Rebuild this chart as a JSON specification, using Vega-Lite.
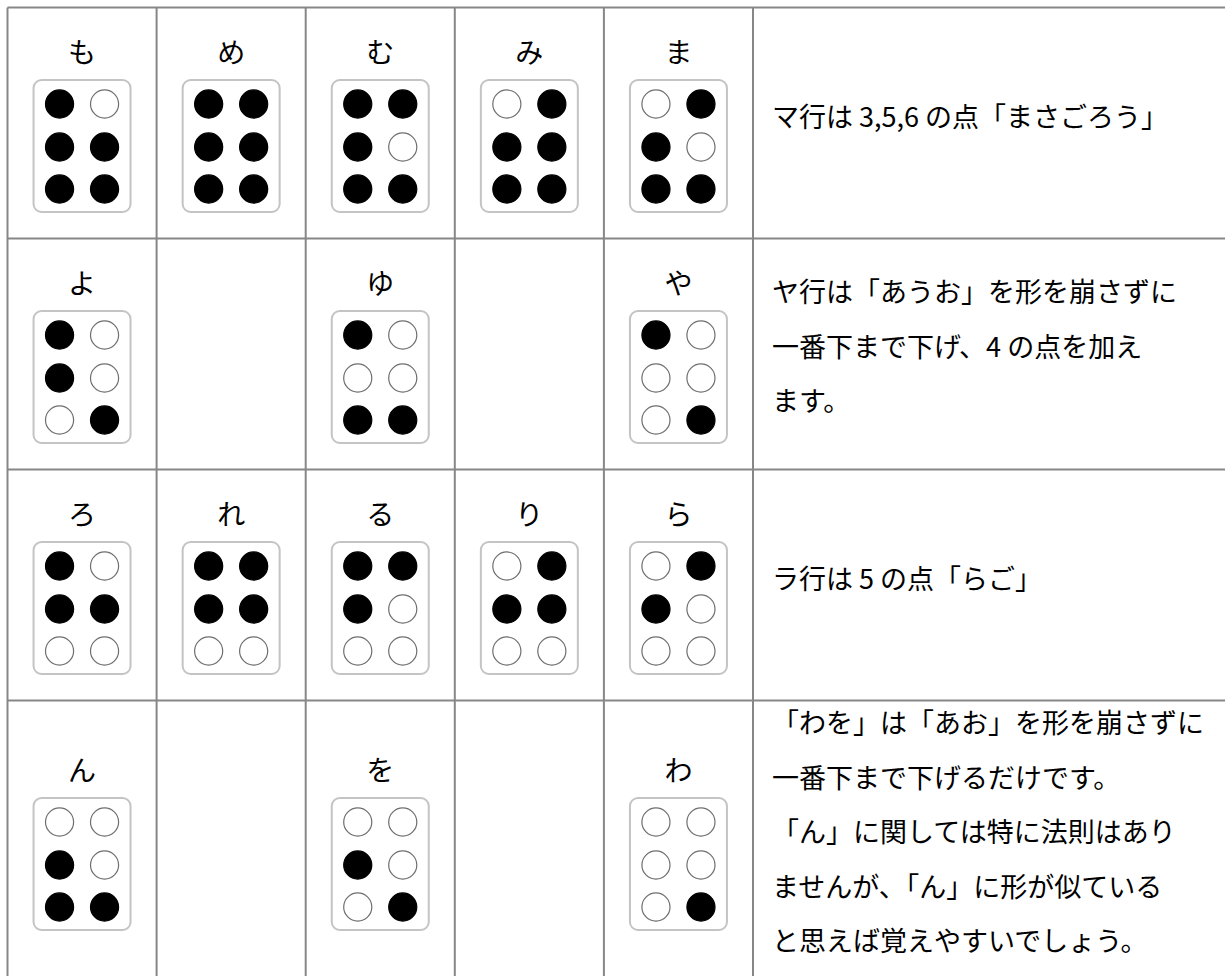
{
  "$schema": "https://vega.github.io/schema/vega-lite/v6.json",
  "width": 1225,
  "height": 976,
  "autosize": {"type": "none"},
  "padding": 0,
  "background": "white",
  "config": {"view": {"stroke": null}, "axis": {"disable": true}},
  "datasets": {
    "cells": [
      {"kana": "も", "col": 1, "row": 1}, {"kana": "め", "col": 2, "row": 1}, {"kana": "む", "col": 3, "row": 1}, {"kana": "み", "col": 4, "row": 1}, {"kana": "ま", "col": 5, "row": 1},
      {"kana": "よ", "col": 1, "row": 2}, {"kana": "ゆ", "col": 3, "row": 2}, {"kana": "や", "col": 5, "row": 2},
      {"kana": "ろ", "col": 1, "row": 3}, {"kana": "れ", "col": 2, "row": 3}, {"kana": "る", "col": 3, "row": 3}, {"kana": "り", "col": 4, "row": 3}, {"kana": "ら", "col": 5, "row": 3},
      {"kana": "ん", "col": 1, "row": 4}, {"kana": "を", "col": 3, "row": 4}, {"kana": "わ", "col": 5, "row": 4}
    ],
    "dots": [
      {"kana": "も", "col": 1, "row": 1, "dot": 1, "state": "raised"}, {"kana": "も", "col": 1, "row": 1, "dot": 2, "state": "raised"}, {"kana": "も", "col": 1, "row": 1, "dot": 3, "state": "raised"}, {"kana": "も", "col": 1, "row": 1, "dot": 4, "state": "flat"}, {"kana": "も", "col": 1, "row": 1, "dot": 5, "state": "raised"}, {"kana": "も", "col": 1, "row": 1, "dot": 6, "state": "raised"},
      {"kana": "め", "col": 2, "row": 1, "dot": 1, "state": "raised"}, {"kana": "め", "col": 2, "row": 1, "dot": 2, "state": "raised"}, {"kana": "め", "col": 2, "row": 1, "dot": 3, "state": "raised"}, {"kana": "め", "col": 2, "row": 1, "dot": 4, "state": "raised"}, {"kana": "め", "col": 2, "row": 1, "dot": 5, "state": "raised"}, {"kana": "め", "col": 2, "row": 1, "dot": 6, "state": "raised"},
      {"kana": "む", "col": 3, "row": 1, "dot": 1, "state": "raised"}, {"kana": "む", "col": 3, "row": 1, "dot": 2, "state": "raised"}, {"kana": "む", "col": 3, "row": 1, "dot": 3, "state": "raised"}, {"kana": "む", "col": 3, "row": 1, "dot": 4, "state": "raised"}, {"kana": "む", "col": 3, "row": 1, "dot": 5, "state": "flat"}, {"kana": "む", "col": 3, "row": 1, "dot": 6, "state": "raised"},
      {"kana": "み", "col": 4, "row": 1, "dot": 1, "state": "flat"}, {"kana": "み", "col": 4, "row": 1, "dot": 2, "state": "raised"}, {"kana": "み", "col": 4, "row": 1, "dot": 3, "state": "raised"}, {"kana": "み", "col": 4, "row": 1, "dot": 4, "state": "raised"}, {"kana": "み", "col": 4, "row": 1, "dot": 5, "state": "raised"}, {"kana": "み", "col": 4, "row": 1, "dot": 6, "state": "raised"},
      {"kana": "ま", "col": 5, "row": 1, "dot": 1, "state": "flat"}, {"kana": "ま", "col": 5, "row": 1, "dot": 2, "state": "raised"}, {"kana": "ま", "col": 5, "row": 1, "dot": 3, "state": "raised"}, {"kana": "ま", "col": 5, "row": 1, "dot": 4, "state": "raised"}, {"kana": "ま", "col": 5, "row": 1, "dot": 5, "state": "flat"}, {"kana": "ま", "col": 5, "row": 1, "dot": 6, "state": "raised"},
      {"kana": "よ", "col": 1, "row": 2, "dot": 1, "state": "raised"}, {"kana": "よ", "col": 1, "row": 2, "dot": 2, "state": "raised"}, {"kana": "よ", "col": 1, "row": 2, "dot": 3, "state": "flat"}, {"kana": "よ", "col": 1, "row": 2, "dot": 4, "state": "flat"}, {"kana": "よ", "col": 1, "row": 2, "dot": 5, "state": "flat"}, {"kana": "よ", "col": 1, "row": 2, "dot": 6, "state": "raised"},
      {"kana": "ゆ", "col": 3, "row": 2, "dot": 1, "state": "raised"}, {"kana": "ゆ", "col": 3, "row": 2, "dot": 2, "state": "flat"}, {"kana": "ゆ", "col": 3, "row": 2, "dot": 3, "state": "raised"}, {"kana": "ゆ", "col": 3, "row": 2, "dot": 4, "state": "flat"}, {"kana": "ゆ", "col": 3, "row": 2, "dot": 5, "state": "flat"}, {"kana": "ゆ", "col": 3, "row": 2, "dot": 6, "state": "raised"},
      {"kana": "や", "col": 5, "row": 2, "dot": 1, "state": "raised"}, {"kana": "や", "col": 5, "row": 2, "dot": 2, "state": "flat"}, {"kana": "や", "col": 5, "row": 2, "dot": 3, "state": "flat"}, {"kana": "や", "col": 5, "row": 2, "dot": 4, "state": "flat"}, {"kana": "や", "col": 5, "row": 2, "dot": 5, "state": "flat"}, {"kana": "や", "col": 5, "row": 2, "dot": 6, "state": "raised"},
      {"kana": "ろ", "col": 1, "row": 3, "dot": 1, "state": "raised"}, {"kana": "ろ", "col": 1, "row": 3, "dot": 2, "state": "raised"}, {"kana": "ろ", "col": 1, "row": 3, "dot": 3, "state": "flat"}, {"kana": "ろ", "col": 1, "row": 3, "dot": 4, "state": "flat"}, {"kana": "ろ", "col": 1, "row": 3, "dot": 5, "state": "raised"}, {"kana": "ろ", "col": 1, "row": 3, "dot": 6, "state": "flat"},
      {"kana": "れ", "col": 2, "row": 3, "dot": 1, "state": "raised"}, {"kana": "れ", "col": 2, "row": 3, "dot": 2, "state": "raised"}, {"kana": "れ", "col": 2, "row": 3, "dot": 3, "state": "flat"}, {"kana": "れ", "col": 2, "row": 3, "dot": 4, "state": "raised"}, {"kana": "れ", "col": 2, "row": 3, "dot": 5, "state": "raised"}, {"kana": "れ", "col": 2, "row": 3, "dot": 6, "state": "flat"},
      {"kana": "る", "col": 3, "row": 3, "dot": 1, "state": "raised"}, {"kana": "る", "col": 3, "row": 3, "dot": 2, "state": "raised"}, {"kana": "る", "col": 3, "row": 3, "dot": 3, "state": "flat"}, {"kana": "る", "col": 3, "row": 3, "dot": 4, "state": "raised"}, {"kana": "る", "col": 3, "row": 3, "dot": 5, "state": "flat"}, {"kana": "る", "col": 3, "row": 3, "dot": 6, "state": "flat"},
      {"kana": "り", "col": 4, "row": 3, "dot": 1, "state": "flat"}, {"kana": "り", "col": 4, "row": 3, "dot": 2, "state": "raised"}, {"kana": "り", "col": 4, "row": 3, "dot": 3, "state": "flat"}, {"kana": "り", "col": 4, "row": 3, "dot": 4, "state": "raised"}, {"kana": "り", "col": 4, "row": 3, "dot": 5, "state": "raised"}, {"kana": "り", "col": 4, "row": 3, "dot": 6, "state": "flat"},
      {"kana": "ら", "col": 5, "row": 3, "dot": 1, "state": "flat"}, {"kana": "ら", "col": 5, "row": 3, "dot": 2, "state": "raised"}, {"kana": "ら", "col": 5, "row": 3, "dot": 3, "state": "flat"}, {"kana": "ら", "col": 5, "row": 3, "dot": 4, "state": "raised"}, {"kana": "ら", "col": 5, "row": 3, "dot": 5, "state": "flat"}, {"kana": "ら", "col": 5, "row": 3, "dot": 6, "state": "flat"},
      {"kana": "ん", "col": 1, "row": 4, "dot": 1, "state": "flat"}, {"kana": "ん", "col": 1, "row": 4, "dot": 2, "state": "raised"}, {"kana": "ん", "col": 1, "row": 4, "dot": 3, "state": "raised"}, {"kana": "ん", "col": 1, "row": 4, "dot": 4, "state": "flat"}, {"kana": "ん", "col": 1, "row": 4, "dot": 5, "state": "flat"}, {"kana": "ん", "col": 1, "row": 4, "dot": 6, "state": "raised"},
      {"kana": "を", "col": 3, "row": 4, "dot": 1, "state": "flat"}, {"kana": "を", "col": 3, "row": 4, "dot": 2, "state": "raised"}, {"kana": "を", "col": 3, "row": 4, "dot": 3, "state": "flat"}, {"kana": "を", "col": 3, "row": 4, "dot": 4, "state": "flat"}, {"kana": "を", "col": 3, "row": 4, "dot": 5, "state": "flat"}, {"kana": "を", "col": 3, "row": 4, "dot": 6, "state": "raised"},
      {"kana": "わ", "col": 5, "row": 4, "dot": 1, "state": "flat"}, {"kana": "わ", "col": 5, "row": 4, "dot": 2, "state": "flat"}, {"kana": "わ", "col": 5, "row": 4, "dot": 3, "state": "flat"}, {"kana": "わ", "col": 5, "row": 4, "dot": 4, "state": "flat"}, {"kana": "わ", "col": 5, "row": 4, "dot": 5, "state": "flat"}, {"kana": "わ", "col": 5, "row": 4, "dot": 6, "state": "raised"}
    ],
    "notes": [
      {"row": 1, "lines": ["マ行は 3,5,6 の点「まさごろう」"]},
      {"row": 2, "lines": ["ヤ行は「あうお」を形を崩さずに", "一番下まで下げ、4 の点を加え", "ます。"]},
      {"row": 3, "lines": ["ラ行は 5 の点「らご」"]},
      {"row": 4, "lines": ["「わを」は「あお」を形を崩さずに", "一番下まで下げるだけです。", "「ん」に関しては特に法則はあり", "ませんが、「ん」に形が似ている", "と思えば覚えやすいでしょう。"]}
    ],
    "vlines": [{"b": 0.5}, {"b": 1.5}, {"b": 2.5}, {"b": 3.5}, {"b": 4.5}, {"b": 5.5}],
    "hlines": [{"b": 0.5}, {"b": 1.5}, {"b": 2.5}, {"b": 3.5}]
  },
  "layer": [
    {
      "data": {"name": "hlines"},
      "mark": {"type": "rule", "color": "#878787", "strokeWidth": 2},
      "encoding": {
        "y": {"field": "b", "type": "quantitative", "axis": null, "scale": {"domain": [0.5, 3.5, 4.5], "range": [7.5, 700.5, 981.5], "zero": false, "nice": false}},
        "x": {"datum": 0.5, "type": "quantitative", "axis": null, "scale": {"domain": [0.5, 5.5], "range": [7.5, 753], "zero": false, "nice": false}},
        "x2": {"datum": 9}
      }
    },
    {
      "data": {"name": "vlines"},
      "mark": {"type": "rule", "color": "#878787", "strokeWidth": 2},
      "encoding": {
        "x": {"field": "b", "type": "quantitative", "axis": null, "scale": {"domain": [0.5, 5.5], "range": [7.5, 753], "zero": false, "nice": false}},
        "y": {"datum": 0.5, "type": "quantitative", "axis": null, "scale": {"domain": [0.5, 3.5, 4.5], "range": [7.5, 700.5, 981.5], "zero": false, "nice": false}},
        "y2": {"datum": 4.7}
      }
    },
    {
      "data": {"name": "cells"},
      "mark": {"type": "rect", "fill": "white", "stroke": "#c4c4c4", "strokeWidth": 2, "cornerRadius": 8, "xOffset": -48.5, "x2Offset": 48.5, "yOffset": -43, "y2Offset": 89},
      "encoding": {
        "x": {"field": "col", "type": "quantitative", "axis": null, "scale": {"domain": [0.5, 5.5], "range": [7.5, 753], "zero": false, "nice": false}},
        "x2": {"field": "col"},
        "y": {"field": "row", "type": "quantitative", "axis": null, "scale": {"domain": [0.5, 3.5, 4.5], "range": [7.5, 700.5, 981.5], "zero": false, "nice": false}},
        "y2": {"field": "row"}
      }
    },
    {
      "data": {"name": "dots"},
      "transform": [{"filter": "datum.dot == 1"}],
      "mark": {"type": "circle", "size": 790, "strokeWidth": 1.2, "opacity": 1, "xOffset": -22.5, "yOffset": -19},
      "encoding": {
        "x": {"field": "col", "type": "quantitative", "axis": null, "scale": {"domain": [0.5, 5.5], "range": [7.5, 753], "zero": false, "nice": false}},
        "y": {"field": "row", "type": "quantitative", "axis": null, "scale": {"domain": [0.5, 3.5, 4.5], "range": [7.5, 700.5, 981.5], "zero": false, "nice": false}},
        "fill": {"field": "state", "type": "nominal", "legend": null, "scale": {"domain": ["raised", "flat"], "range": ["#000000", "#ffffff"]}},
        "stroke": {"field": "state", "type": "nominal", "legend": null, "scale": {"domain": ["raised", "flat"], "range": ["#000000", "#6e6e6e"]}}
      }
    },
    {
      "data": {"name": "dots"},
      "transform": [{"filter": "datum.dot == 2"}],
      "mark": {"type": "circle", "size": 790, "strokeWidth": 1.2, "opacity": 1, "xOffset": -22.5, "yOffset": 24},
      "encoding": {
        "x": {"field": "col", "type": "quantitative", "axis": null, "scale": {"domain": [0.5, 5.5], "range": [7.5, 753], "zero": false, "nice": false}},
        "y": {"field": "row", "type": "quantitative", "axis": null, "scale": {"domain": [0.5, 3.5, 4.5], "range": [7.5, 700.5, 981.5], "zero": false, "nice": false}},
        "fill": {"field": "state", "type": "nominal", "legend": null, "scale": {"domain": ["raised", "flat"], "range": ["#000000", "#ffffff"]}},
        "stroke": {"field": "state", "type": "nominal", "legend": null, "scale": {"domain": ["raised", "flat"], "range": ["#000000", "#6e6e6e"]}}
      }
    },
    {
      "data": {"name": "dots"},
      "transform": [{"filter": "datum.dot == 3"}],
      "mark": {"type": "circle", "size": 790, "strokeWidth": 1.2, "opacity": 1, "xOffset": -22.5, "yOffset": 66},
      "encoding": {
        "x": {"field": "col", "type": "quantitative", "axis": null, "scale": {"domain": [0.5, 5.5], "range": [7.5, 753], "zero": false, "nice": false}},
        "y": {"field": "row", "type": "quantitative", "axis": null, "scale": {"domain": [0.5, 3.5, 4.5], "range": [7.5, 700.5, 981.5], "zero": false, "nice": false}},
        "fill": {"field": "state", "type": "nominal", "legend": null, "scale": {"domain": ["raised", "flat"], "range": ["#000000", "#ffffff"]}},
        "stroke": {"field": "state", "type": "nominal", "legend": null, "scale": {"domain": ["raised", "flat"], "range": ["#000000", "#6e6e6e"]}}
      }
    },
    {
      "data": {"name": "dots"},
      "transform": [{"filter": "datum.dot == 4"}],
      "mark": {"type": "circle", "size": 790, "strokeWidth": 1.2, "opacity": 1, "xOffset": 22.5, "yOffset": -19},
      "encoding": {
        "x": {"field": "col", "type": "quantitative", "axis": null, "scale": {"domain": [0.5, 5.5], "range": [7.5, 753], "zero": false, "nice": false}},
        "y": {"field": "row", "type": "quantitative", "axis": null, "scale": {"domain": [0.5, 3.5, 4.5], "range": [7.5, 700.5, 981.5], "zero": false, "nice": false}},
        "fill": {"field": "state", "type": "nominal", "legend": null, "scale": {"domain": ["raised", "flat"], "range": ["#000000", "#ffffff"]}},
        "stroke": {"field": "state", "type": "nominal", "legend": null, "scale": {"domain": ["raised", "flat"], "range": ["#000000", "#6e6e6e"]}}
      }
    },
    {
      "data": {"name": "dots"},
      "transform": [{"filter": "datum.dot == 5"}],
      "mark": {"type": "circle", "size": 790, "strokeWidth": 1.2, "opacity": 1, "xOffset": 22.5, "yOffset": 24},
      "encoding": {
        "x": {"field": "col", "type": "quantitative", "axis": null, "scale": {"domain": [0.5, 5.5], "range": [7.5, 753], "zero": false, "nice": false}},
        "y": {"field": "row", "type": "quantitative", "axis": null, "scale": {"domain": [0.5, 3.5, 4.5], "range": [7.5, 700.5, 981.5], "zero": false, "nice": false}},
        "fill": {"field": "state", "type": "nominal", "legend": null, "scale": {"domain": ["raised", "flat"], "range": ["#000000", "#ffffff"]}},
        "stroke": {"field": "state", "type": "nominal", "legend": null, "scale": {"domain": ["raised", "flat"], "range": ["#000000", "#6e6e6e"]}}
      }
    },
    {
      "data": {"name": "dots"},
      "transform": [{"filter": "datum.dot == 6"}],
      "mark": {"type": "circle", "size": 790, "strokeWidth": 1.2, "opacity": 1, "xOffset": 22.5, "yOffset": 66},
      "encoding": {
        "x": {"field": "col", "type": "quantitative", "axis": null, "scale": {"domain": [0.5, 5.5], "range": [7.5, 753], "zero": false, "nice": false}},
        "y": {"field": "row", "type": "quantitative", "axis": null, "scale": {"domain": [0.5, 3.5, 4.5], "range": [7.5, 700.5, 981.5], "zero": false, "nice": false}},
        "fill": {"field": "state", "type": "nominal", "legend": null, "scale": {"domain": ["raised", "flat"], "range": ["#000000", "#ffffff"]}},
        "stroke": {"field": "state", "type": "nominal", "legend": null, "scale": {"domain": ["raised", "flat"], "range": ["#000000", "#6e6e6e"]}}
      }
    },
    {
      "data": {"name": "cells"},
      "mark": {"type": "text", "font": "Noto Sans CJK JP", "fontSize": 28, "color": "#000000", "align": "center", "baseline": "middle", "yOffset": -68},
      "encoding": {
        "x": {"field": "col", "type": "quantitative", "axis": null, "scale": {"domain": [0.5, 5.5], "range": [7.5, 753], "zero": false, "nice": false}},
        "y": {"field": "row", "type": "quantitative", "axis": null, "scale": {"domain": [0.5, 3.5, 4.5], "range": [7.5, 700.5, 981.5], "zero": false, "nice": false}},
        "text": {"field": "kana", "type": "nominal"}
      }
    },
    {
      "data": {"name": "notes"},
      "transform": [{"filter": "datum.row == 1 || datum.row == 3"}],
      "mark": {"type": "text", "font": "Noto Sans CJK JP", "fontSize": 27, "color": "#000000", "align": "left", "baseline": "middle", "lineHeight": 54.5, "dx": 19, "yOffset": -4},
      "encoding": {
        "x": {"datum": 5.5, "type": "quantitative", "axis": null, "scale": {"domain": [0.5, 5.5], "range": [7.5, 753], "zero": false, "nice": false}},
        "y": {"field": "row", "type": "quantitative", "axis": null, "scale": {"domain": [0.5, 3.5, 4.5], "range": [7.5, 700.5, 981.5], "zero": false, "nice": false}},
        "text": {"field": "lines", "type": "nominal"}
      }
    },
    {
      "data": {"name": "notes"},
      "transform": [{"filter": "datum.row == 2"}],
      "mark": {"type": "text", "font": "Noto Sans CJK JP", "fontSize": 27, "color": "#000000", "align": "left", "baseline": "middle", "lineHeight": 54.5, "dx": 19, "yOffset": -60},
      "encoding": {
        "x": {"datum": 5.5, "type": "quantitative", "axis": null, "scale": {"domain": [0.5, 5.5], "range": [7.5, 753], "zero": false, "nice": false}},
        "y": {"field": "row", "type": "quantitative", "axis": null, "scale": {"domain": [0.5, 3.5, 4.5], "range": [7.5, 700.5, 981.5], "zero": false, "nice": false}},
        "text": {"field": "lines", "type": "nominal"}
      }
    },
    {
      "data": {"name": "notes"},
      "transform": [{"filter": "datum.row == 4"}],
      "mark": {"type": "text", "font": "Noto Sans CJK JP", "fontSize": 27, "color": "#000000", "align": "left", "baseline": "middle", "lineHeight": 54.5, "dx": 19, "yOffset": -116},
      "encoding": {
        "x": {"datum": 5.5, "type": "quantitative", "axis": null, "scale": {"domain": [0.5, 5.5], "range": [7.5, 753], "zero": false, "nice": false}},
        "y": {"field": "row", "type": "quantitative", "axis": null, "scale": {"domain": [0.5, 3.5, 4.5], "range": [7.5, 700.5, 981.5], "zero": false, "nice": false}},
        "text": {"field": "lines", "type": "nominal"}
      }
    }
  ]
}
